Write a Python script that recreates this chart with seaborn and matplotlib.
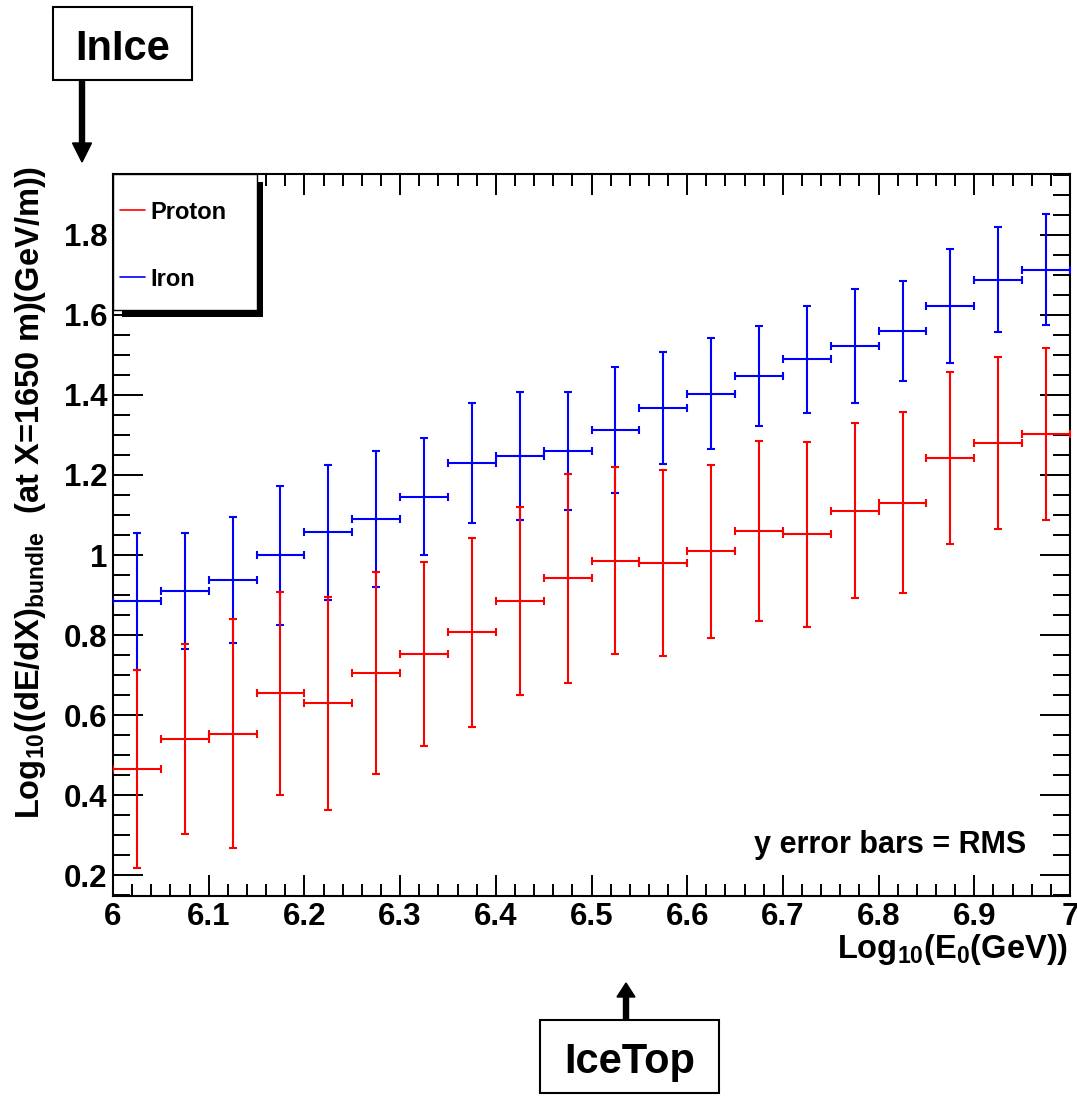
import matplotlib
matplotlib.use("Agg")
import matplotlib.pyplot as plt
import seaborn as sns
import numpy as np
import pandas as pd
from matplotlib.patches import Rectangle, FancyArrow
from matplotlib.lines import Line2D
from matplotlib.transforms import IdentityTransform
from matplotlib.ticker import MultipleLocator, FuncFormatter

# ---------------- data ----------------
energy_centers = [6.025, 6.075, 6.125, 6.175, 6.225, 6.275, 6.325, 6.375, 6.425, 6.475,
                  6.525, 6.575, 6.625, 6.675, 6.725, 6.775, 6.825, 6.875, 6.925, 6.975]
bin_halfwidth = 0.025

proton_mean = [0.465, 0.540, 0.554, 0.654, 0.630, 0.705, 0.753, 0.807, 0.885, 0.942,
               0.986, 0.980, 1.009, 1.060, 1.052, 1.111, 1.131, 1.243, 1.281, 1.302]
proton_rms = [0.248, 0.237, 0.286, 0.254, 0.266, 0.252, 0.230, 0.236, 0.235, 0.261,
              0.233, 0.233, 0.217, 0.224, 0.231, 0.218, 0.226, 0.215, 0.215, 0.215]

iron_mean = [0.884, 0.909, 0.937, 0.999, 1.057, 1.090, 1.146, 1.230, 1.247, 1.260,
             1.313, 1.367, 1.403, 1.447, 1.489, 1.523, 1.559, 1.622, 1.688, 1.713]
iron_rms = [0.172, 0.145, 0.158, 0.173, 0.169, 0.170, 0.147, 0.151, 0.160, 0.148,
            0.158, 0.140, 0.138, 0.124, 0.134, 0.142, 0.125, 0.142, 0.131, 0.139]

x_ticks = [6.0, 6.1, 6.2, 6.3, 6.4, 6.5, 6.6, 6.7, 6.8, 6.9, 7.0]
y_ticks = [0.2, 0.4, 0.6, 0.8, 1.0, 1.2, 1.4, 1.6, 1.8]

series_names = ["Proton", "Iron"]
series_colors = {"Proton": "#ff0000", "Iron": "#0000ff"}

# ---------------- style ----------------
W, H = 1077, 1096
sns.set_theme(style="ticks")
plt.rcParams["font.family"] = ["Liberation Sans", "DejaVu Sans"]
plt.rcParams["font.weight"] = "bold"
plt.rcParams["text.color"] = "black"
plt.rcParams["axes.labelcolor"] = "black"
plt.rcParams["xtick.color"] = "black"
plt.rcParams["ytick.color"] = "black"
plt.rcParams["mathtext.fontset"] = "custom"
plt.rcParams["mathtext.rm"] = "Liberation Sans:bold"
plt.rcParams["mathtext.it"] = "Liberation Sans:bold"
plt.rcParams["mathtext.bf"] = "Liberation Sans:bold"
plt.rcParams["mathtext.default"] = "rm"

fig = plt.figure(figsize=(W / 100, H / 100), dpi=100)
fig.patch.set_facecolor("white")
ax = fig.add_axes([113 / W, 1 - 896 / H, (1070 - 113) / W, (896 - 174) / H])
ax.set_facecolor("white")

df = pd.DataFrame({
    "E": energy_centers * 2,
    "val": proton_mean + iron_mean,
    "rms": proton_rms + iron_rms,
    "series": ["Proton"] * len(energy_centers) + ["Iron"] * len(energy_centers),
})

for name in ["Iron", "Proton"]:
    sub = df[df["series"] == name]
    ax.errorbar(sub["E"], sub["val"], xerr=bin_halfwidth, yerr=sub["rms"],
                fmt="none", ecolor=series_colors[name], elinewidth=1.5,
                capsize=2.6, capthick=1.5, zorder=3)

ax.set_xlim(6.0, 7.0)
ax.set_ylim(0.148, 1.952)
ax.set_xticks(x_ticks)
ax.set_yticks(y_ticks)
fmt = FuncFormatter(lambda v, p: "%g" % round(v, 3))
ax.xaxis.set_major_formatter(fmt)
ax.yaxis.set_major_formatter(fmt)
ax.xaxis.set_minor_locator(MultipleLocator(0.02))
ax.yaxis.set_minor_locator(MultipleLocator(0.05))

for s in ax.spines.values():
    s.set_linewidth(1.5)
    s.set_color("black")

ax.tick_params(axis="x", which="major", direction="in", top=True, bottom=True,
               length=15, width=1.4, labelsize=22.5, pad=4, color="black",
               labelcolor="black")
ax.tick_params(axis="x", which="minor", direction="in", top=True, bottom=True,
               length=8.6, width=1.4, color="black")
ax.tick_params(axis="y", which="major", direction="in", left=True, right=True,
               length=21.6, width=1.4, labelsize=22.5, pad=4, color="black",
               labelcolor="black")
ax.tick_params(axis="y", which="minor", direction="in", left=True, right=True,
               length=12, width=1.4, color="black")
for lab in ax.get_xticklabels() + ax.get_yticklabels():
    lab.set_fontweight("bold")

# axis titles
fig.text(1068 / W, 1 - 958 / H, r"Log$_{10}$(E$_{0}$(GeV))", ha="right",
         va="baseline", fontsize=23.5, fontweight="bold", color="black")
fig.text(31 / W, 1 - 166 / H, r"Log$_{10}$((dE/dX)$_{bundle}$  (at X=1650 m)(GeV/m))",
         rotation=90, ha="center", va="top", fontsize=23.5, fontweight="bold",
         color="black")

# annotation inside the frame
fig.text(1026 / W, 1 - 853 / H, "y error bars = RMS", ha="right", va="baseline",
         fontsize=22, fontweight="bold", color="black")

ident = IdentityTransform()


def P(x, y):
    return (x, H - y)


# legend (ROOT style with shadow)
fig.add_artist(Rectangle(P(122, 317), 141, 135, transform=ident,
                         facecolor="black", edgecolor="none", zorder=10))
fig.add_artist(Rectangle(P(113, 310), 144, 136, transform=ident,
                         facecolor="white", edgecolor="black", lw=1, zorder=11))
for name, yy in zip(series_names, [210, 277]):
    fig.add_artist(Line2D([120, 145], [H - yy, H - yy], transform=ident,
                          color=series_colors[name], lw=1.2, zorder=12))
    fig.text(150 / W, 1 - yy / H, name, ha="left", va="center_baseline",
             fontsize=17, fontweight="bold", color="black", zorder=12)

# InIce box and arrow
fig.add_artist(Rectangle(P(53, 80), 139, 73, transform=ident,
                         facecolor="white", edgecolor="black", lw=1.5, zorder=5))
fig.text(122.5 / W, 1 - 44 / H, "InIce", ha="center", va="center_baseline",
         fontsize=30, fontweight="bold", color="black", zorder=6)
fig.add_artist(FancyArrow(82, H - 80, 0, -82, width=5, head_width=19,
                          head_length=19, length_includes_head=True,
                          transform=ident, color="black", zorder=5))

# IceTop box and arrow
fig.add_artist(Rectangle(P(540, 1093), 179, 73, transform=ident,
                         facecolor="white", edgecolor="black", lw=1.5, zorder=5))
fig.text(629.5 / W, 1 - 1058 / H, "IceTop", ha="center", va="center_baseline",
         fontsize=30, fontweight="bold", color="black", zorder=6)
fig.add_artist(FancyArrow(626, H - 1020, 0, 37, width=5, head_width=18,
                          head_length=14, length_includes_head=True,
                          transform=ident, color="black", zorder=5))

fig.savefig("out.png", dpi=100, facecolor="white")
